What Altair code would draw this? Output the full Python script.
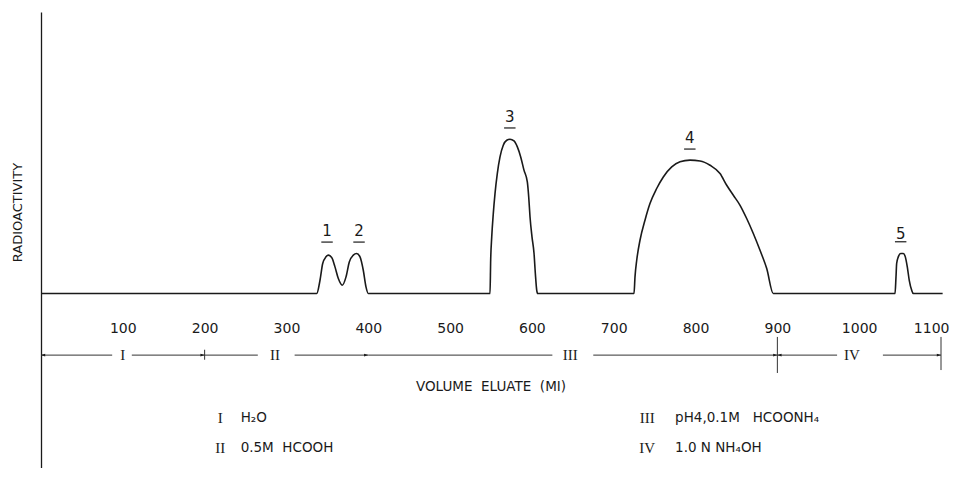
import altair as alt
import pandas as pd

# ---- data ----
curve_ml = [0, 337, 341, 344.3, 348.3, 351.2, 355.3, 359.3, 363.4, 368.2, 372.8, 376.8, 381.7,
            385.8, 389.9, 393.9, 397.2, 400,
            548.8, 549.6, 550.9, 552.8, 554.9, 557.7, 561, 565, 569.2, 573.2, 578.1, 582.2,
            586.3, 590.3, 594.4, 596.1, 597.7, 600.1, 602.6, 604.2, 605.9, 607.1,
            724.8, 726, 728.1, 732.1, 738.2, 744.3, 752.5, 760.6, 770.9, 781, 793.2, 805.5,
            817.7, 829.9, 838.1, 846.2, 854.4, 862.5, 870.6, 878.8, 887, 895,
            1043.8, 1045, 1045.8, 1047.8, 1050.7, 1053.9, 1056.4, 1058.8, 1061.2, 1064.2, 1066.1,
            1102]
activity = [0, 0, 8.6, 19.5, 23.8, 24.9, 23.4, 17.3, 9.7, 5.4, 10.8, 20.5, 24.9,
            26, 23.8, 15.1, 4.3, 0,
            0, 21.6, 36.8, 51.9, 64.9, 77.9, 88.7, 96.3, 99.5, 100.2, 99.1, 95.2,
            88.7, 80.1, 72.5, 62.7, 49.7, 36.8, 26, 13, 2.1, 0,
            0, 10.8, 21.6, 34.6, 47.6, 58.4, 68.2, 75.7, 82.2, 85.5, 86.6, 86.1,
            83.3, 77.9, 70.3, 63.8, 57.3, 48.7, 39, 28.1, 16.2, 0,
            0, 10.8, 19.5, 23.8, 26, 26, 23.8, 17.3, 8.6, 2.1, 0,
            0]

peak_labels = ["1", "2", "3", "4", "5"]
peak_ml = [349.6, 388.7, 573, 793, 1050.7]
peak_label_y = [40.6, 40.6, 114.6, 101, 38.6]
peak_underline_y = [33.4, 33.4, 107.5, 93.8, 33.6]

x_ticks = [100, 200, 300, 400, 500, 600, 700, 800, 900, 1000, 1100]

# eluent bands (arrow row)
band_y = -40
seg_start = [0, 111, 200, 310, 400, 675, 900, 1029]
seg_end = [87, 200, 265, 400, 625, 900, 973, 1100]
band_names = ["I", "II", "III", "IV"]
band_name_ml = [100, 286, 647, 991]
right_arrow_ml = [200, 400, 900, 1100]
left_arrow_ml = [0, 900]
vtick_ml = [200, 900, 1100]
vtick_top = [-36.5, -28.2, -28.2]
vtick_bottom = [-43, -51.6, -49.7]

x_title = "VOLUME\u00a0\u00a0ELUATE\u00a0\u00a0(MI)"
x_title_pos = [550, -60.7]

legend_numerals = ["I", "II", "III", "IV"]
legend_texts = ["H\u2082O", "0.5M\u00a0\u00a0HCOOH", "pH4,0.1M\u00a0\u00a0\u00a0HCOONH\u2084", "1.0\u00a0N\u00a0NH\u2084OH"]
legend_num_ml = [219, 219, 741, 741]
legend_text_ml = [244, 244, 775, 775]
legend_y = [-81, -100, -81, -100]

# ---- tables ----
curve = pd.DataFrame({"ml": curve_ml, "act": activity})
peaks = pd.DataFrame({"lab": peak_labels, "ml": peak_ml, "ly": peak_label_y, "uy": peak_underline_y})
peaks["x1"] = peaks["ml"] - 7
peaks["x2"] = peaks["ml"] + 7
segs = pd.DataFrame({"a": seg_start, "b": seg_end, "y": band_y})
bands = pd.DataFrame({"name": band_names, "ml": band_name_ml, "y": band_y})
rarr = pd.DataFrame({"ml": right_arrow_ml, "y": band_y})
larr = pd.DataFrame({"ml": left_arrow_ml, "y": band_y})
vt = pd.DataFrame({"ml": vtick_ml, "t": vtick_top, "b": vtick_bottom})
xt = pd.DataFrame({"t": [x_title], "ml": [x_title_pos[0]], "y": [x_title_pos[1]]})
leg = pd.DataFrame({"num": legend_numerals, "txt": legend_texts, "nx": legend_num_ml,
                    "tx": legend_text_ml, "y": legend_y})

xs = alt.Scale(domain=[0, 1100], nice=False, zero=False)
ys = alt.Scale(domain=[-113.3, 182.8], nice=False, zero=False)
INK = "#1a1a1a"
SANS = "DejaVu Sans"
SERIF = "Liberation Serif"

line = alt.Chart(curve).mark_line(color=INK, strokeWidth=1.6, interpolate="monotone").encode(
    x=alt.X("ml:Q", scale=xs,
            axis=alt.Axis(values=x_ticks, format="d", domain=False, ticks=False, tickSize=0,
                          grid=False, labelFont=SANS, labelFontSize=14, labelColor=INK,
                          labelBaseline="middle", labelPadding=0, offset=-140, title=None,
                          labelFlush=True, labelFlushOffset=8, labelOverlap=False)),
    y=alt.Y("act:Q", scale=ys,
            axis=alt.Axis(domain=True, domainColor=INK, domainWidth=1.3, ticks=False,
                          labels=False, grid=False, title="RADIOACTIVITY",
                          titleFont=SANS, titleFontSize=13, titleFontWeight="normal",
                          titleColor=INK, titleX=-24, titleY=200, titleAngle=270,
                          titleAlign="center", titleBaseline="middle")),
)

plabels = alt.Chart(peaks).mark_text(font=SANS, fontSize=15, color=INK, baseline="middle").encode(
    x=alt.X("ml:Q", scale=xs), y=alt.Y("ly:Q", scale=ys), text="lab:N")
punder = alt.Chart(peaks).mark_rule(color=INK, strokeWidth=1.2).encode(
    x=alt.X("x1:Q", scale=xs), x2="x2:Q", y=alt.Y("uy:Q", scale=ys))

segrules = alt.Chart(segs).mark_rule(color="#333333", strokeWidth=1).encode(
    x=alt.X("a:Q", scale=xs), x2="b:Q", y=alt.Y("y:Q", scale=ys))
bandtext = alt.Chart(bands).mark_text(font=SERIF, fontSize=15, color=INK, baseline="middle").encode(
    x=alt.X("ml:Q", scale=xs), y=alt.Y("y:Q", scale=ys), text="name:N")
rhead = alt.Chart(rarr).mark_point(shape="M0,0L-1,-0.33L-1,0.33Z", filled=True, size=70,
                                   color=INK, opacity=1).encode(
    x=alt.X("ml:Q", scale=xs), y=alt.Y("y:Q", scale=ys))
lhead = alt.Chart(larr).mark_point(shape="M0,0L1,-0.33L1,0.33Z", filled=True, size=70,
                                   color=INK, opacity=1).encode(
    x=alt.X("ml:Q", scale=xs), y=alt.Y("y:Q", scale=ys))
vticks = alt.Chart(vt).mark_rule(color="#333333", strokeWidth=1).encode(
    x=alt.X("ml:Q", scale=xs), y=alt.Y("t:Q", scale=ys), y2="b:Q")

xtitle = alt.Chart(xt).mark_text(font=SANS, fontSize=13.5, color=INK, baseline="middle").encode(
    x=alt.X("ml:Q", scale=xs), y=alt.Y("y:Q", scale=ys), text="t:N")

legnum = alt.Chart(leg).mark_text(font=SERIF, fontSize=15, color=INK, baseline="middle").encode(
    x=alt.X("nx:Q", scale=xs), y=alt.Y("y:Q", scale=ys), text="num:N")
legtxt = alt.Chart(leg).mark_text(font=SANS, fontSize=13.5, color=INK, baseline="middle",
                                  align="left").encode(
    x=alt.X("tx:Q", scale=xs), y=alt.Y("y:Q", scale=ys), text="txt:N")

chart = alt.layer(line, punder, plabels, segrules, vticks, rhead, lhead, bandtext,
                  xtitle, legnum, legtxt).properties(
    width=900, height=456,
    padding={"left": 33, "top": 4, "right": 9, "bottom": 0},
    autosize=alt.AutoSizeParams(type="none"),
    background="white",
).configure_view(stroke=None)

chart.save("out.html", embed_options={"renderer": "svg", "actions": False})
